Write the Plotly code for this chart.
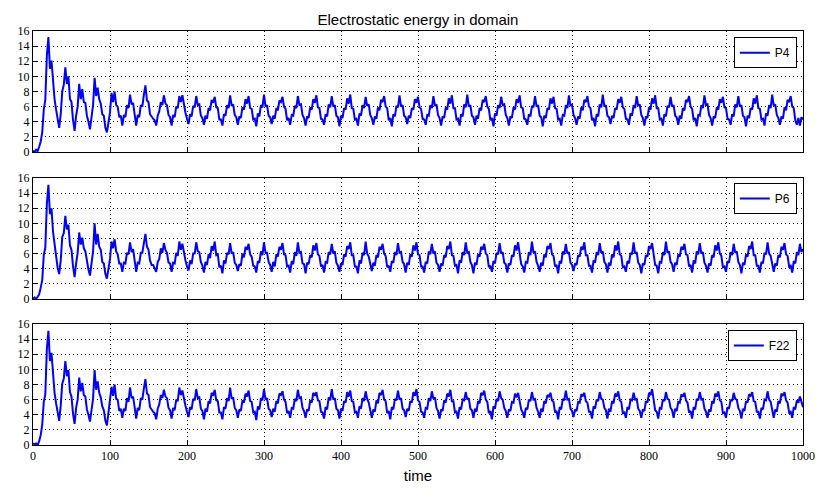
import plotly.graph_objects as go
from plotly.subplots import make_subplots

# sample times (every 2 time units, 0..1000)
time = list(range(0, 1001, 2))

# electrostatic energy, P4
p4 = [
    0.2, 0.0, 0.3, 0.1, 0.7, 1.4, 2.6, 5.6, 6.9, 12.8,
    15.2, 11.0, 12.1, 8.8, 7.0, 5.6, 4.2, 3.2, 5.0, 8.0,
    8.9, 11.2, 9.0, 10.0, 7.0, 6.6, 4.2, 2.8, 4.8, 6.0,
    9.0, 7.0, 8.3, 6.6, 6.5, 4.8, 4.0, 3.0, 4.6, 6.2,
    9.8, 7.4, 8.5, 7.0, 6.4, 5.0, 4.8, 3.2, 2.6, 4.3,
    5.2, 7.8, 6.6, 8.0, 6.2, 6.0, 4.6, 4.8, 3.5, 4.9,
    4.6, 6.2, 5.8, 7.6, 6.3, 6.5, 5.0,
    3.5, 4.9, 4.6, 6.2, 6.0, 7.6, 8.8, 6.8, 6.6, 5.0, 4.6,
    4.4, 4.2, 3.5, 4.8, 5.4, 6.6, 6.2, 7.5, 6.4, 6.2, 4.9,
    4.6, 3.5, 4.9, 4.6, 6.0, 5.8, 7.4, 6.6, 7.5, 6.0, 5.2,
    4.4, 3.7, 5.0, 4.7, 6.1, 5.9, 7.4, 6.2, 6.3, 4.8, 4.5,
    3.6, 4.8, 4.4, 5.8, 5.5, 6.9, 6.5, 7.3, 5.9, 5.8, 4.3,
    4.3, 3.5, 5.0, 4.8, 6.2, 5.8, 7.5, 6.1, 6.3, 4.9, 4.6,
    3.6, 4.7, 4.5, 5.9, 5.6, 7.0, 6.4, 7.4, 5.8, 5.7, 4.3,
    4.4, 3.4, 5.1, 4.7, 6.2, 5.9, 7.6, 6.0, 6.2, 4.8, 4.6,
    3.7, 4.8, 4.4, 5.8, 5.5, 6.8, 6.6, 7.3, 6.0, 5.7, 4.2,
    4.5, 3.6, 4.9, 4.8, 6.1, 5.8, 7.4, 6.2, 6.3, 4.9, 4.5,
    3.5, 4.7, 4.5, 5.9, 5.6, 7.0, 6.5, 7.5, 5.9, 5.8, 4.4,
    4.3, 3.6, 5.0, 4.7, 6.3, 5.9, 7.4, 6.0, 6.2, 4.8, 4.6,
    3.4, 4.8, 4.5, 5.8, 5.6, 7.1, 6.4, 7.6, 5.8, 5.7, 4.3,
    4.4, 3.5, 5.1, 4.8, 6.2, 5.8, 7.3, 6.1, 6.3, 4.9, 4.5,
    3.6, 4.7, 4.4, 5.9, 5.5, 6.9, 6.6, 7.4, 6.0, 5.8, 4.2,
    4.5, 3.4, 5.0, 4.7, 6.1, 5.9, 7.5, 6.0, 6.2, 4.8, 4.6,
    3.7, 4.8, 4.5, 5.8, 5.6, 7.0, 6.5, 7.3, 5.9, 5.7, 4.4,
    4.3, 3.6, 4.9, 4.8, 6.2, 5.8, 7.4, 6.1, 6.3, 4.9, 4.5,
    3.5, 4.7, 4.5, 5.9, 5.6, 7.1, 6.4, 7.5, 5.8, 5.8, 4.3,
    4.4, 3.5, 5.0, 4.7, 6.3, 5.9, 7.6, 6.0, 6.2, 4.8, 4.6,
    3.6, 4.8, 4.4, 5.8, 5.5, 6.9, 6.6, 7.4, 6.0, 5.7, 4.2,
    4.5, 3.4, 5.1, 4.8, 6.2, 5.8, 7.3, 6.2, 6.3, 4.9, 4.5,
    3.5, 4.7, 4.5, 5.9, 5.6, 7.0, 6.5, 7.5, 5.9, 5.8, 4.4,
    4.3, 3.6, 5.0, 4.7, 6.1, 5.9, 7.4, 6.0, 6.2, 4.8, 4.6,
    3.4, 4.8, 4.5, 5.8, 5.6, 7.1, 6.4, 7.3, 5.8, 5.7, 4.3,
    4.4, 3.5, 4.9, 4.8, 6.2, 5.8, 7.5, 6.1, 6.3, 4.9, 4.5,
    3.6, 4.7, 4.4, 5.9, 5.5, 6.9, 6.6, 7.4, 6.0, 5.8, 4.2,
    4.5, 3.4, 5.0, 4.7, 6.3, 5.9, 7.6, 6.0, 6.2, 4.8, 4.6,
    3.7, 4.8, 4.5, 5.8, 5.6, 7.0, 6.5, 7.3, 5.9, 5.7, 4.4,
    4.3, 3.6, 5.1, 4.8, 6.2, 5.8, 7.4, 6.1, 6.3, 4.9, 4.5,
    3.5, 4.7, 4.5, 5.9, 5.6, 7.1, 6.4, 7.5, 5.8, 5.8, 4.3,
    4.4, 3.5, 5.0, 4.7, 6.1, 5.9, 7.3, 6.0, 6.2, 4.8, 4.6,
    3.6, 4.8, 4.4, 5.8, 5.5, 6.9, 6.6, 7.4, 6.0, 5.7, 4.2,
    4.5, 3.4, 4.9, 4.8, 6.2, 5.8, 7.5, 6.2, 6.3, 4.9, 4.5,
    3.5, 4.7, 4.5, 5.9, 5.6, 7.0, 6.5, 7.3, 5.9, 5.8, 4.4,
    4.3, 3.6, 5.0, 4.7, 6.3, 5.9, 7.4, 6.0, 6.2, 4.8, 4.6,
    3.4, 4.8, 4.5, 5.8, 5.6, 7.1, 6.4, 7.5, 5.8, 5.7, 4.3,
    4.4, 3.5, 5.1, 4.8, 6.2, 5.8, 7.6, 6.1, 6.3, 4.9, 4.5,
    3.6, 4.7, 4.4, 5.9, 5.5, 6.9, 6.6, 7.4, 6.0, 5.8, 4.2,
    3.6, 4.5, 3.5, 4.6, 4.3,
]

# electrostatic energy, P6
p6 = [
    0.1, 0.2, 0.0, 0.3, 0.6, 1.5, 2.5, 5.8, 6.8, 12.6,
    15.1, 11.2, 12.0, 8.9, 6.8, 5.7, 4.1, 3.3, 5.1, 8.2,
    8.7, 11.0, 9.2, 9.8, 7.1, 6.5, 4.3, 2.9, 4.7, 6.1,
    8.8, 7.2, 8.1, 6.7, 6.3, 4.9, 3.9, 3.1, 4.5, 6.3,
    10.0, 7.2, 8.6, 6.9, 6.5, 4.9, 4.7, 3.3, 2.7, 4.2,
    5.3, 7.6, 6.7, 7.9, 6.3, 5.9, 4.7, 4.7, 3.6, 4.8,
    4.7, 6.1, 5.9, 7.5, 6.2, 6.6, 5.1,
    3.6, 4.8, 4.7, 6.1, 6.1, 7.4, 8.6, 6.9, 6.5, 5.1, 4.5,
    4.5, 4.1, 3.6, 4.9, 5.3, 6.7, 6.1, 7.4, 6.5, 6.1, 4.8,
    4.7, 3.6, 4.8, 4.7, 6.1, 5.7, 7.6, 6.5, 7.3, 5.9, 5.1,
    4.3, 3.8, 5.1, 4.6, 6.0, 6.0, 7.5, 6.3, 6.2, 4.9, 4.4,
    3.5, 4.9, 4.5, 5.9, 5.4, 7.0, 6.4, 7.6, 5.8, 5.9, 4.2,
    4.4, 3.4, 5.1, 4.7, 6.1, 5.9, 7.4, 6.0, 6.2, 4.8, 4.5,
    3.7, 4.6, 4.4, 6.0, 5.5, 6.9, 6.5, 7.3, 5.9, 5.6, 4.4,
    4.3, 3.5, 5.0, 4.8, 6.3, 5.8, 7.5, 6.1, 6.1, 4.9, 4.5,
    3.6, 4.9, 4.3, 5.9, 5.6, 6.9, 6.5, 7.4, 5.9, 5.8, 4.3,
    4.4, 3.5, 5.0, 4.6, 6.2, 5.7, 7.5, 6.1, 6.2, 4.7, 4.6,
    3.4, 4.8, 4.6, 5.8, 5.5, 7.1, 6.4, 7.4, 5.9, 5.7, 4.3,
    4.5, 3.5, 4.9, 4.8, 6.2, 5.9, 7.3, 6.0, 6.3, 4.8, 4.4,
    3.6, 4.7, 4.5, 5.9, 5.6, 7.0, 6.6, 7.5, 5.8, 5.8, 4.3,
    4.3, 3.4, 5.1, 4.7, 6.1, 5.8, 7.6, 6.0, 5.6, 4.6,
    3.7, 4.8, 4.4, 5.8, 5.5, 6.9, 6.5, 7.3, 6.0, 5.7, 4.2,
    4.4, 3.6, 5.0, 4.8, 6.2, 5.8, 7.4, 6.1, 6.2, 4.9, 4.6,
    3.5, 4.8, 4.5, 5.9, 5.6, 7.1, 6.4, 7.5, 5.9, 5.8, 4.3,
    4.3, 3.5, 4.9, 4.7, 6.3, 5.9, 7.3, 6.0, 6.3, 4.8, 4.5,
    3.6, 4.7, 4.4, 5.8, 5.5, 7.0, 6.6, 7.6, 5.8, 5.7, 4.4,
    4.5, 3.4, 5.1, 4.8, 6.2, 5.8, 7.5, 6.1, 6.2, 4.9, 4.5,
    3.4, 4.8, 4.5, 5.9, 5.6, 6.9, 6.5, 7.3, 6.0, 5.8, 4.2,
    4.4, 3.6, 5.0, 4.7, 6.1, 5.9, 7.4, 6.0, 6.2, 4.8, 4.6,
    3.5, 4.7, 4.5, 5.8, 5.6, 7.1, 6.4, 7.5, 5.7, 4.6,
    4.3, 3.5, 4.9, 4.8, 6.2, 5.8, 7.6, 6.1, 6.3, 4.9, 4.4,
    3.6, 4.8, 4.4, 5.9, 5.5, 7.0, 6.6, 7.4, 5.9, 5.7, 4.3,
    4.5, 3.4, 5.0, 4.7, 6.3, 5.9, 7.3, 6.0, 6.2, 4.8, 4.5,
    3.7, 4.7, 4.5, 5.8, 5.6, 6.9, 6.5, 7.5, 5.8, 5.8, 4.4,
    4.4, 3.5, 5.1, 4.8, 6.2, 5.8, 7.4, 6.1, 6.3, 4.9, 4.6,
    3.5, 4.8, 4.4, 5.9, 5.5, 7.1, 6.4, 7.6, 5.9, 5.7, 4.2,
    4.3, 3.6, 5.0, 4.7, 6.1, 5.9, 7.5, 6.0, 6.2, 4.8, 4.5,
    3.4, 4.7, 4.5, 5.8, 5.6, 7.0, 6.6, 7.4, 5.8, 4.5,
    4.4, 3.4, 4.9, 4.8, 6.2, 5.8, 7.6, 6.1, 6.3, 4.9, 4.6,
    3.6, 4.8, 4.5, 5.9, 5.6, 6.9, 6.5, 7.3, 5.9, 5.8, 4.3,
    4.5, 3.5, 5.1, 4.7, 6.3, 5.9, 7.4, 6.0, 6.2, 4.8, 4.4,
    3.5, 4.7, 4.4, 5.8, 5.5, 7.1, 6.4, 7.5, 6.0, 5.7, 4.2,
    4.3, 3.6, 5.0, 4.8, 6.2, 5.8, 7.3, 6.1, 6.3, 4.9, 4.5,
    3.4, 4.8, 4.5, 5.9, 5.6, 7.0, 6.6, 7.6, 5.8, 5.8, 4.4,
    4.4, 3.5, 4.9, 4.7, 6.1, 5.9, 7.5, 6.0, 5.7, 4.6,
    3.6, 4.7, 4.4, 5.8, 5.5, 6.9, 6.5, 7.4, 5.9, 5.7, 4.3,
    4.4, 3.5, 5.0, 4.7, 6.2, 5.8, 7.3, 6.2, 6.6,
]

# electrostatic energy, F22
f22 = [
    0.2, 0.1, 0.2, 0.0, 0.5, 1.3, 2.7, 5.7, 6.7, 12.7,
    15.1, 11.1, 12.2, 8.7, 6.9, 5.5, 4.0, 3.2, 5.2, 8.1,
    8.8, 11.1, 9.1, 9.9, 7.0, 6.4, 4.1, 2.8, 4.9, 6.0,
    8.9, 7.1, 8.2, 6.6, 6.4, 4.7, 4.0, 3.1, 4.6, 6.1,
    9.9, 7.3, 8.4, 6.9, 6.3, 5.1, 4.6, 3.2, 2.6, 4.4,
    5.4, 7.7, 6.5, 8.0, 6.1, 6.0, 4.5, 4.8, 3.6, 4.8,
    4.5, 6.2, 5.7, 7.6, 6.2, 6.4, 5.0,
    3.5, 4.9, 4.6, 6.2, 6.0, 7.5, 8.7, 6.8, 6.6, 5.0, 4.6,
    4.4, 4.2, 3.4, 4.8, 5.4, 6.6, 6.2, 7.3, 6.4, 6.2, 4.9,
    4.6, 3.5, 4.9, 4.6, 6.0, 5.8, 7.6, 6.6, 7.2, 6.0, 5.2,
    4.4, 3.7, 5.0, 4.7, 6.1, 5.9, 7.4, 6.2, 6.3, 4.8, 4.5,
    3.4, 4.8, 4.4, 5.8, 5.5, 6.9, 6.5, 7.3, 5.9, 5.8, 4.3,
    4.3, 3.4, 5.0, 4.8, 6.2, 5.8, 7.6, 6.1, 6.3, 4.9, 4.6,
    3.6, 4.7, 4.5, 5.9, 5.6, 6.8, 6.4, 7.2, 5.8, 5.7, 4.3,
    4.4, 3.3, 5.1, 4.7, 6.2, 5.9, 7.4, 6.0, 6.2, 4.8, 4.6,
    3.7, 4.8, 4.4, 5.8, 5.5, 6.8, 6.6, 7.1, 6.0, 5.7, 4.2,
    4.5, 3.6, 4.9, 4.8, 6.1, 5.8, 7.3, 6.2, 6.3, 4.9, 4.5,
    3.6, 4.7, 4.5, 5.9, 5.6, 6.9, 6.5, 7.0, 5.9, 5.8, 4.4,
    4.3, 3.5, 5.0, 4.7, 6.3, 5.9, 7.4, 6.0, 6.2, 4.8, 4.6,
    3.5, 4.8, 4.5, 5.8, 5.6, 7.0, 6.4, 7.2, 5.8, 5.7, 4.3,
    4.4, 3.6, 5.1, 4.8, 6.2, 5.8, 7.1, 6.1, 5.6, 4.5,
    3.6, 4.7, 4.4, 5.9, 5.5, 6.9, 6.6, 7.3, 6.0, 5.8, 4.2,
    4.5, 3.4, 5.0, 4.7, 6.1, 5.9, 7.2, 6.0, 6.2, 4.8, 4.6,
    3.7, 4.8, 4.5, 5.8, 5.6, 7.0, 6.5, 7.4, 5.9, 5.7, 4.4,
    4.3, 3.6, 4.9, 4.8, 6.2, 5.8, 7.1, 6.1, 6.3, 4.9, 4.5,
    3.5, 4.7, 4.5, 5.9, 5.6, 6.8, 6.4, 7.3, 5.8, 5.8, 4.3,
    4.4, 3.5, 5.0, 4.7, 6.0, 5.9, 7.0, 6.0, 6.2, 4.8, 4.6,
    3.6, 4.8, 4.4, 5.8, 5.5, 6.9, 6.6, 7.2, 6.0, 5.7, 4.2,
    4.5, 3.4, 5.1, 4.8, 6.1, 5.8, 7.1, 6.2, 6.0, 4.9, 4.5,
    3.6, 4.7, 4.5, 5.7, 5.6, 6.8, 6.3, 6.9, 5.7, 4.7,
    4.3, 3.6, 4.9, 4.7, 6.0, 5.8, 7.0, 6.0, 6.1, 4.9, 4.4,
    3.6, 4.8, 4.4, 5.8, 5.5, 6.6, 6.4, 6.9, 5.9, 5.7, 4.3,
    4.5, 3.4, 5.0, 4.7, 6.1, 5.9, 7.2, 6.0, 6.1, 4.8, 4.5,
    3.7, 4.7, 4.5, 5.7, 5.6, 6.7, 6.5, 6.9, 5.8, 5.6, 4.4,
    4.4, 3.5, 5.1, 4.8, 6.0, 5.8, 7.0, 6.1, 6.0, 4.9, 4.6,
    3.5, 4.8, 4.4, 5.8, 5.5, 6.8, 6.4, 7.1, 5.9, 5.7, 4.2,
    4.3, 3.6, 5.0, 4.7, 6.0, 5.9, 6.9, 6.0, 6.1, 4.8, 4.5,
    3.6, 4.7, 4.5, 5.8, 5.6, 6.9, 6.6, 7.4, 5.8, 4.6,
    4.4, 3.5, 4.9, 4.8, 6.0, 5.8, 7.0, 6.1, 6.0, 4.9, 4.6,
    3.6, 4.8, 4.5, 5.7, 5.6, 6.7, 6.4, 6.9, 5.9, 5.6, 4.3,
    4.5, 3.5, 5.0, 4.7, 6.1, 5.9, 7.0, 6.0, 6.1, 4.8, 4.4,
    3.6, 4.7, 4.4, 5.8, 5.5, 6.8, 6.4, 7.1, 5.9, 5.7, 4.2,
    4.3, 3.6, 5.0, 4.8, 6.0, 5.8, 6.9, 6.1, 6.0, 4.9, 4.5,
    3.5, 4.8, 4.5, 5.8, 5.6, 6.7, 6.5, 7.0, 5.8, 5.7, 4.4,
    4.4, 3.5, 4.9, 4.7, 6.0, 5.9, 7.1, 6.0, 5.7, 4.6,
    3.6, 4.7, 4.4, 5.8, 5.5, 6.8, 6.5, 7.0, 5.9, 5.6, 4.3,
    4.4, 3.6, 5.0, 4.7, 5.9, 5.6, 6.4, 5.5, 5.0,
]

series = [("P4", p4), ("P6", p6), ("F22", f22)]
x_ticks = list(range(0, 1001, 100))
y_ticks = list(range(0, 17, 2))

fig = make_subplots(rows=3, cols=1, shared_xaxes=True, vertical_spacing=0.06)

# the page body adds an 8px offset, so the figure is laid out 8px smaller
W, H = 822, 490

legend_y = [0.985, 0.633, 0.278]
for i, (name, vals) in enumerate(series):
    leg = "legend" if i == 0 else f"legend{i + 1}"
    fig.add_trace(
        go.Scatter(
            x=time, y=vals, mode="lines", name=name,
            line=dict(color="#0000ff", width=2),
            legend=leg,
        ),
        row=i + 1, col=1,
    )
    fig.update_layout({leg: dict(
        x=0.992, y=legend_y[i], xanchor="right", yanchor="top",
        bgcolor="white", bordercolor="black", borderwidth=1,
        font=dict(family="Liberation Sans, Arial, sans-serif", size=12, color="black"),
        itemwidth=30, tracegroupgap=0,
    )})

axis_style = dict(
    showline=True, linecolor="black", linewidth=1, mirror=True,
    showgrid=True, gridcolor="black", gridwidth=1, griddash="1px,3px",
    ticks="inside", ticklen=4, tickcolor="black", zeroline=False,
    automargin=False,
    tickfont=dict(family="Liberation Serif, DejaVu Serif, serif", size=12, color="black"),
)
fig.update_xaxes(range=[0, 1000], tickvals=x_ticks, **axis_style)
fig.update_yaxes(range=[0, 16], tickvals=y_ticks, **axis_style)
fig.update_xaxes(
    title=dict(text="time", standoff=8,
               font=dict(family="Liberation Sans, Arial, sans-serif", size=15, color="black")),
    row=3, col=1,
)

# panel placement (fractions of plot area height)
fig.update_layout(
    yaxis=dict(domain=[0.7077, 1.0]),
    yaxis2=dict(domain=[0.3527, 0.6449]),
    yaxis3=dict(domain=[0.0, 0.2923]),
)

fig.update_layout(
    width=W, height=H,
    margin=dict(l=25, r=27, t=23, b=53),
    paper_bgcolor="white", plot_bgcolor="white",
    title=dict(text="Electrostatic energy in domain", x=0.5, xref="paper",
               y=1 - 12 / H, yanchor="middle",
               font=dict(family="Liberation Sans, Arial, sans-serif", size=15, color="black")),
    showlegend=True,
)

fig.write_html("out.html")
